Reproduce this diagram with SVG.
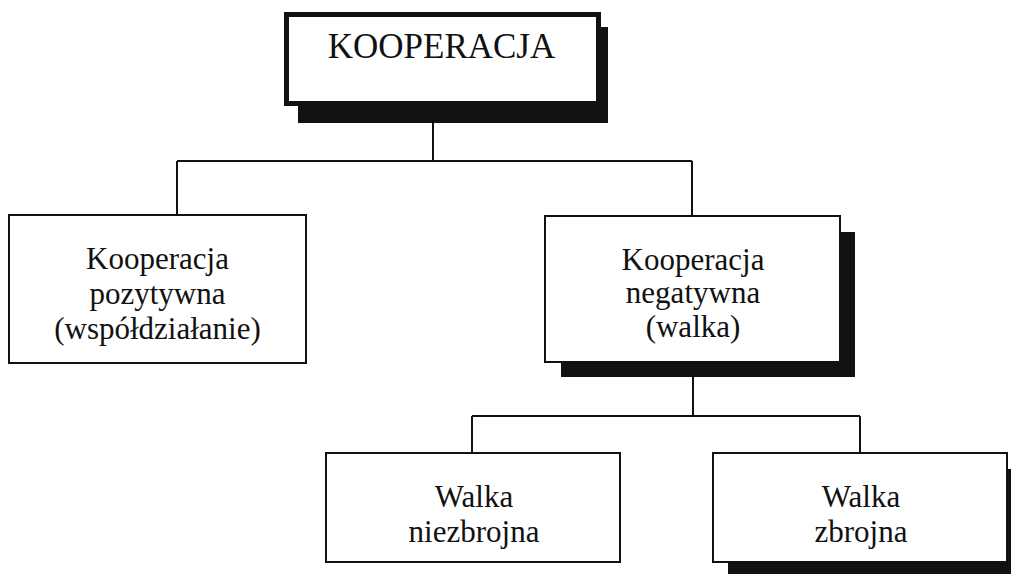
<svg xmlns="http://www.w3.org/2000/svg" width="1011" height="574" viewBox="0 0 1011 574">
<style>
.box{fill:#fff;stroke:#111;stroke-width:2}
.shadow{fill:#111}
.t{font-family:"Liberation Serif","Times New Roman",serif;font-size:31px;fill:#111;text-anchor:middle}
.title{font-size:35px}
.c{fill:none;stroke:#111;stroke-width:2}
</style>
<rect width="1011" height="574" fill="#fff"/>
<g id="connectors">
<path class="c" d="M433 123V161M177 161H692M177 161V215M692 161V216"/>
<path class="c" d="M693 377V416M472 416H860M472 416V453M860 416V453"/>
</g>
<g id="kooperacja">
<rect class="shadow" x="298" y="27" width="310" height="96"/>
<rect x="286.5" y="14.5" width="312" height="89" fill="#fff" stroke="#111" stroke-width="5"/>
<text class="t title" x="441.5" y="58">KOOPERACJA</text>
</g>
<g id="pozytywna">
<rect class="box" x="9" y="215" width="297" height="148"/>
<text class="t" x="157.5" y="269">Kooperacja</text>
<text class="t" x="157.5" y="304">pozytywna</text>
<text class="t" x="157.5" y="339">(współdziałanie)</text>
</g>
<g id="negatywna">
<rect class="shadow" x="561" y="232" width="294" height="145"/>
<rect class="box" x="545" y="216" width="295" height="146"/>
<text class="t" x="693" y="270">Kooperacja</text>
<text class="t" x="693" y="303">negatywna</text>
<text class="t" x="693" y="337">(walka)</text>
</g>
<g id="niezbrojna">
<rect class="box" x="326" y="453" width="294" height="109"/>
<text class="t" x="474" y="507">Walka</text>
<text class="t" x="474" y="542">niezbrojna</text>
</g>
<g id="zbrojna">
<rect class="shadow" x="728" y="469" width="300" height="120"/>
<rect class="box" x="713" y="453" width="294" height="109"/>
<text class="t" x="861" y="507">Walka</text>
<text class="t" x="861" y="542">zbrojna</text>
</g>
</svg>
